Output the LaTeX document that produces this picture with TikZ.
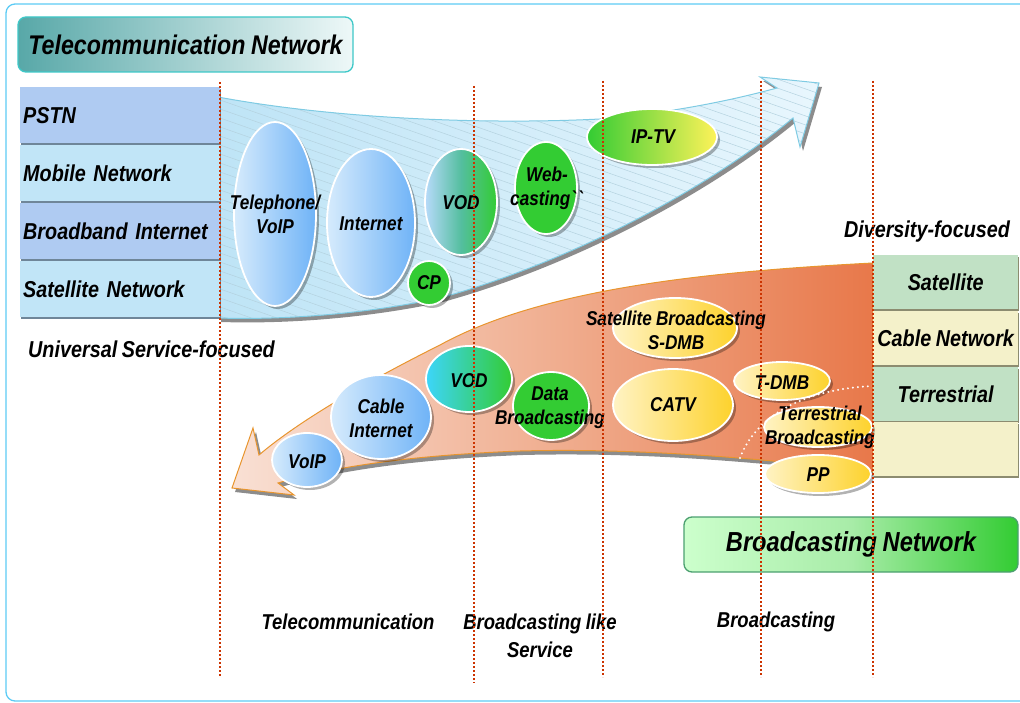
\documentclass[tikz,border=0pt]{standalone}
\usepackage{fontspec}
\setmainfont[FakeStretch=0.86,WordSpace=0.86]{Liberation Sans}
\usetikzlibrary{shapes.geometric,shadows}

\definecolor{frameblue}{HTML}{5CCBF5}
\definecolor{dotred}{HTML}{CC3300}
\definecolor{pstnblue}{HTML}{AFCBF2}
\definecolor{mobblue}{HTML}{C1E5F7}
\definecolor{lboxsh}{HTML}{6F8699}
\definecolor{titleL}{HTML}{58A8A8}
\definecolor{titleR}{HTML}{EEF8F8}
\definecolor{titleE}{HTML}{3EC8C8}
\definecolor{arrbA}{HTML}{BEE4F6}
\definecolor{arrbB}{HTML}{E8F6FD}
\definecolor{arrbE}{HTML}{7FCBE3}
\definecolor{hatchc}{HTML}{B4D2DF}
\definecolor{orgA}{HTML}{F9E0D4}
\definecolor{orgB}{HTML}{F0AE90}
\definecolor{orgC}{HTML}{E8784A}
\definecolor{orgE}{HTML}{E8952E}
\definecolor{bluL}{HTML}{D6EBFC}
\definecolor{bluR}{HTML}{6FB3F7}
\definecolor{grn}{HTML}{33CC33}
\definecolor{yelL}{HTML}{FFF3C4}
\definecolor{yelR}{HTML}{FDD22C}
\definecolor{sgreen}{HTML}{C1E1C5}
\definecolor{scream}{HTML}{F4F1CA}
\definecolor{rboxsh}{HTML}{8C8C70}
\definecolor{bnL}{HTML}{CCFFCC}
\definecolor{bnM}{HTML}{A8ECA8}
\definecolor{bnR}{HTML}{33CC33}
\definecolor{bnE}{HTML}{4CA070}

% outlines of the two large curved arrows
\def\uparr{(218,97) .. controls (330,118) and (480,125) .. (600,119)
  .. controls (680,112) and (740,98) .. (777,88) -- (760,77) -- (819,83)
  -- (800,147) -- (793,118) .. controls (700,195) and (560,265) .. (440,298)
  .. controls (360,315) and (280,320) .. (218,318) -- cycle}
\def\loarr{(873,263) .. controls (700,272) and (540,290) .. (440,345)
  .. controls (370,380) and (300,420) .. (259,455) -- (253,428) -- (232,488)
  -- (294,495) -- (278,483) .. controls (340,465) and (420,455) .. (520,451)
  .. controls (640,448) and (760,458) .. (873,472) -- cycle}

\begin{document}
\begin{tikzpicture}[x=1pt,y=-1pt,
  frame/.style={draw=frameblue, line width=1.3pt, rounded corners=9pt},
  vline/.style={draw=dotred, line width=2pt, dash pattern=on 2pt off 2pt},
  hatch/.style={draw=hatchc, line width=0.5pt},
  bub/.style={ellipse, draw=white, line width=1.8pt, inner sep=0pt,
    drop shadow={shadow xshift=3pt, shadow yshift=-3pt, fill=black, opacity=0.3}},
  blu/.style={bub, left color=bluL, right color=bluR},
  grnb/.style={bub, fill=grn},
  yel/.style={bub, left color=yelL, right color=yelR},
  lbl/.style={font=\fontsize{20}{24}\selectfont\bfseries\itshape, align=center, inner sep=0pt},
  side/.style={font=\fontsize{23}{27}\selectfont\bfseries\itshape, inner sep=0pt},
  bot/.style={font=\fontsize{21.5}{28}\selectfont\bfseries\itshape, align=center, inner sep=0pt},
  lbox/.style={rectangle, anchor=north west, minimum height=56pt, text width=194pt,
    inner xsep=3pt, inner ysep=0pt, align=left,
    font=\fontsize{23}{27}\selectfont\bfseries\itshape,
    drop shadow={shadow xshift=1pt, shadow yshift=-2pt, fill=lboxsh, opacity=1}},
  rbox/.style={rectangle, anchor=north west, minimum height=54pt, minimum width=145pt,
    inner sep=0pt, font=\fontsize{23}{27}\selectfont\bfseries\itshape,
    drop shadow={shadow xshift=1pt, shadow yshift=-2pt, fill=rboxsh, opacity=1}},
  hdr/.style={rectangle, rounded corners=8pt, line width=1.3pt, inner sep=0pt}
]
\useasboundingbox (0,0) rectangle (1020,703);

% outer frame
\draw[frame] (6,4) rectangle (1040,701);

% telecommunication arrow: shadow, fill, hatching, outline
\begin{scope}[shift={(3,4)}]
  \fill[black!45] \uparr;
\end{scope}
\shade[left color=arrbA, right color=arrbB] \uparr;
\begin{scope}
  \clip \uparr;
  \foreach \c in {-150,-141,...,330}
    \draw[hatch] (200,\c) -- (900,\c+245);
\end{scope}
\draw[arrbE, line width=1pt] \uparr;

% broadcasting arrow: shadow, fill, outline
\begin{scope}[shift={(3,4)}]
  \fill[black!45] \loarr;
\end{scope}
\shade[left color=orgA, right color=orgC, middle color=orgB] \loarr;
\draw[orgE, line width=1pt] \loarr;

% network columns
\node[lbox, fill=pstnblue] (pstn) at (20,87)  {PSTN};
\node[lbox, fill=mobblue]  (mob)  at (20,145) {Mobile Network};
\node[lbox, fill=pstnblue] (bbi)  at (20,203) {Broadband Internet};
\node[lbox, fill=mobblue]  (satn) at (20,261) {Satellite Network};

\node[rbox, fill=sgreen] (rsat)  at (873,255) {Satellite};
\node[rbox, fill=scream] (rcab)  at (873,311) {Cable Network};
\node[rbox, fill=sgreen] (rterr) at (873,367) {Terrestrial};
\node[rbox, fill=scream] (rnone) at (873,422) {};

% headers
\node[hdr, draw=titleE, left color=titleL, right color=titleR,
      minimum width=335pt, minimum height=55pt,
      font=\fontsize{27}{30}\selectfont\bfseries\itshape] (tnet) at (185.5,44.5)
      {Telecommunication Network};
\node[hdr, draw=bnE, left color=bnL, right color=bnR, middle color=bnM,
      minimum width=334pt, minimum height=55pt,
      font=\fontsize{27.5}{30}\selectfont\bfseries\itshape] (bnet) at (851,544.5)
      {Broadcasting Network};

% telecommunication services
\node[blu, minimum width=82pt, minimum height=184pt] (tel) at (275,214) {};
\node[lbl] (telT) at (tel) {Telephone/\\VoIP};
\node[blu, minimum width=88pt, minimum height=148pt] (inet) at (371,223) {};
\node[lbl] (inetT) at (371,224) {Internet};
\node[bub, left color=bluL!70!bluR, right color=grn, middle color=grn!45!bluR,
      minimum width=72pt, minimum height=106pt] (vodu) at (461,202) {};
\node[lbl] (voduT) at (461,203) {VOD};
\node[grnb, minimum width=62pt, minimum height=92pt] (web) at (546,188) {};
\node[lbl] (webT) at (547,188) {Web-\\casting\textasciigrave\textasciigrave};
\node[bub, left color=grn, right color=yelR!40!yellow!70!white,
      minimum width=130pt, minimum height=56pt] (iptv) at (652,137) {};
\node[lbl] (iptvT) at (653,137) {IP-TV};
\node[grnb, minimum width=42pt, minimum height=44pt] (cp) at (429,283) {};
\node[lbl] (cpT) at (cp) {CP};

% broadcasting services
\node[blu, minimum width=70pt, minimum height=54pt] (voip) at (307,460) {};
\node[lbl] (voipT) at (307,462) {VoIP};
\node[blu, minimum width=100pt, minimum height=84pt] (cabi) at (381,417) {};
\node[lbl] (cabiT) at (381,418) {Cable\\Internet};
\node[bub, left color=cyan!45!bluR, right color=grn,
      minimum width=86pt, minimum height=66pt] (vodl) at (469,379) {};
\node[lbl] (vodlT) at (469,381) {VOD};
\node[grnb, minimum width=76pt, minimum height=68pt] (data) at (551,406) {};
\node[lbl] (dataT) at (550,408) {Data\\Broadcasting};
\node[yel, minimum width=124pt, minimum height=60pt] (sat) at (675,328) {};
\node[lbl] (satT) at (676,330) {Satellite Broadcasting\\S-DMB};
\node[yel, minimum width=120pt, minimum height=72pt] (catv) at (673,405) {};
\node[lbl] (catvT) at (673,405) {CATV};
\node[yel, minimum width=96pt, minimum height=38pt] (tdmb) at (782,381) {};
\node[lbl] (tdmbT) at (782,383) {T-DMB};
\node[yel, minimum width=108pt, minimum height=40pt] (terr) at (818,427) {};
\node[lbl] (terrT) at (820,427) {Terrestrial\\Broadcasting};
\node[yel, minimum width=106pt, minimum height=38pt] (pp) at (818,474) {};
\node[lbl] (ppT) at (818,475) {PP};

% terrestrial group boundary
\draw[white, line width=2.2pt, dash pattern=on 0pt off 5pt, line cap=round]
  (740,458) .. controls (752,425) and (790,390) .. (873,386);

% side and axis captions
\node[side, anchor=west] (usf) at (28,349) {Universal Service-focused};
\node[side] (dvf) at (927,232) {Diversity-focused};
\node[bot] (cTel) at (348,622) {Telecommunication};
\node[bot] (cLike) at (540,636) {Broadcasting like\\Service};
\node[bot] (cBc) at (776,622) {Broadcasting};

% column separators
\draw[vline] (220,82) -- (220,677);
\draw[vline] (474,86) -- (474,683);
\draw[vline] (603,81) -- (603,677);
\draw[vline] (761,81) -- (761,677);
\draw[vline] (873,81) -- (873,677);
\end{tikzpicture}
\end{document}
